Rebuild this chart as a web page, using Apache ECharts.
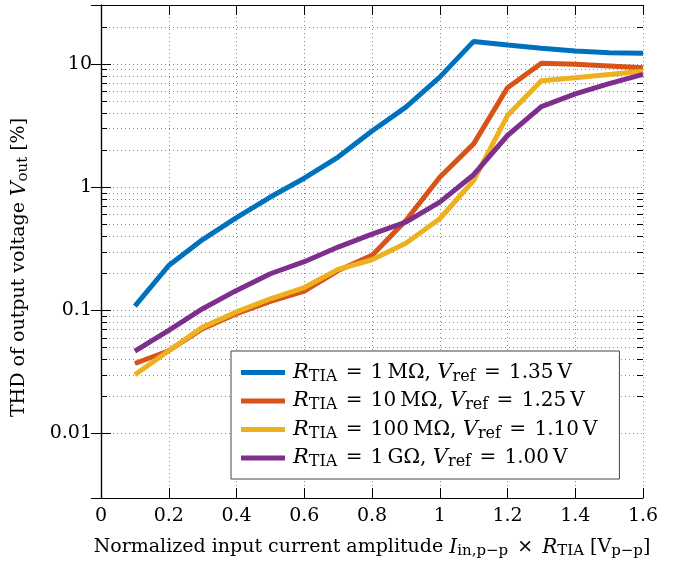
<!DOCTYPE html>
<html>
<head>
<meta charset="utf-8">
<script src="https://cdn.jsdelivr.net/npm/echarts@6/dist/echarts.min.js"></script>
<style>
  html, body { margin: 0; padding: 0; background: #fff; }
  #main { width: 678px; height: 563px; }
</style>
</head>
<body>
<div id="main"></div>
<script>
var FONT = "DejaVu Serif";

// x values (normalized amplitude)
var xValues = [0.1, 0.2, 0.3, 0.4, 0.5, 0.6, 0.7, 0.8, 0.9, 1.0, 1.1, 1.2, 1.3, 1.4, 1.5, 1.6];

// THD [%] per curve
var thd1M   = [0.108, 0.231, 0.375, 0.565, 0.83, 1.18, 1.75, 2.85, 4.45, 7.8, 15.2, 14.2, 13.4, 12.7, 12.3, 12.2];
var thd10M  = [0.037, 0.047, 0.071, 0.094, 0.118, 0.143, 0.21, 0.279, 0.535, 1.2, 2.24, 6.4, 10.1, 9.9, 9.6, 9.3];
var thd100M = [0.030, 0.047, 0.073, 0.097, 0.124, 0.153, 0.215, 0.257, 0.35, 0.553, 1.13, 3.8, 7.3, 7.7, 8.2, 8.7];
var thd1G   = [0.0467, 0.0687, 0.103, 0.145, 0.198, 0.248, 0.326, 0.415, 0.52, 0.755, 1.26, 2.62, 4.5, 5.7, 6.9, 8.2];

var resistors = ["1\u2009M\u03A9", "10\u2009M\u03A9", "100\u2009M\u03A9", "1\u2009G\u03A9"];
var vrefs = ["1.35", "1.25", "1.10", "1.00"];
var colors = ["#0072BD", "#D95319", "#EDB120", "#7E2F8E"];

// minor log ticks (2..9 of each decade inside the axis range)
var minorTicks = [0.02, 0.03, 0.04, 0.05, 0.06, 0.07, 0.08, 0.09,
                  0.2, 0.3, 0.4, 0.5, 0.6, 0.7, 0.8, 0.9,
                  2, 3, 4, 5, 6, 7, 8, 9, 20];

var names = resistors.map(function (r, i) {
    return "R_TIA = " + r + ", V_ref = " + vrefs[i] + " V";
});

function pairs(ys) {
    return xValues.map(function (x, i) { return [x, ys[i]]; });
}

var titleRich = {
    i: { fontFamily: FONT, fontStyle: "italic", fontSize: 20, color: "#000" },
    s: { fontFamily: FONT, fontSize: 15, color: "#000", padding: [8, 0, 0, 0] },
    o: { fontFamily: FONT, fontSize: 19, color: "#000", padding: [0, 3, 0, 3] }
};
var legendRich = {
    i: { fontFamily: FONT, fontStyle: "italic", fontSize: 21, color: "#000" },
    s: { fontFamily: FONT, fontSize: 16, color: "#000", padding: [8, 0, 0, 0] },
    o: { fontFamily: FONT, fontSize: 20, color: "#000", padding: [0, 2, 0, 2] }
};

var gridStyle = { color: "#8a8a8a", width: 1, type: [1, 3] };
var axisLineStyle = { color: "#000", width: 1.2 };

var chart = echarts.init(document.getElementById("main"));

var allSeries = [{
    type: "custom",
    silent: true,
    z: 1,
    data: minorTicks.map(function (v) { return [0, v]; }),
    encode: { x: 0, y: 1 },
    renderItem: function (params, api) {
        var p = api.coord([0, api.value(1)]);
        var cs = params.coordSys;
        var y = Math.round(p[1]) + 0.5;
        return {
            type: "group",
            children: [
                { type: "line", shape: { x1: cs.x, y1: y, x2: cs.x + cs.width, y2: y },
                  style: { stroke: gridStyle.color, lineWidth: 1, lineDash: [1, 3] } },
                { type: "line", shape: { x1: cs.x, y1: y, x2: cs.x + 6, y2: y },
                  style: { stroke: "#000", lineWidth: 1 } },
                { type: "line", shape: { x1: cs.x + cs.width - 6, y1: y, x2: cs.x + cs.width, y2: y },
                  style: { stroke: "#000", lineWidth: 1 } }
            ]
        };
    }
}];

[thd1M, thd10M, thd100M, thd1G].forEach(function (d, i) {
    allSeries.push({
        name: names[i],
        type: "line",
        showSymbol: false,
        z: 3,
        data: pairs(d),
        lineStyle: { width: 5, color: colors[i] },
        itemStyle: { color: colors[i] }
    });
});

var options = {
    animation: false,
    grid: { left: 101, right: 35, top: 5, bottom: 65, outerBoundsMode: "none", containLabel: false },
    legend: {
        orient: "vertical",
        left: 231,
        top: 351,
        data: names,
        icon: "rect",
        itemWidth: 44,
        itemHeight: 5,
        itemGap: 6,
        padding: [11, 22, 9, 10],
        backgroundColor: "#fff",
        borderColor: "#444",
        borderWidth: 1,
        borderRadius: 0,
        textStyle: { fontFamily: FONT, fontSize: 20, color: "#000", rich: legendRich, padding: [0, 0, 0, 3] },
        formatter: function (name) {
            var k = names.indexOf(name);
            return "{i|R}{s|TIA} {o|=} " + resistors[k] + ", {i|V}{s|ref} {o|=} " + vrefs[k] + "\u2009V";
        }
    },
    xAxis: [{
        type: "value",
        min: 0,
        max: 1.6,
        interval: 0.2,
        position: "bottom",
        name: "Normalized input current amplitude {i|I}{s|in,p\u2212p} {o|\u00D7} {i|R}{s|TIA} [V{s|p\u2212p}]",
        nameLocation: "middle",
        nameGap: 38,
        nameTextStyle: { fontFamily: FONT, fontSize: 19, color: "#000", rich: titleRich },
        axisLine: { lineStyle: axisLineStyle },
        axisTick: { inside: true, length: 10, lineStyle: { color: "#000" } },
        axisLabel: { fontFamily: FONT, fontSize: 19, color: "#000", margin: 9 },
        splitLine: { show: true, lineStyle: gridStyle }
    }, {
        type: "value",
        min: 0,
        max: 1.6,
        interval: 0.2,
        position: "top",
        axisLine: { lineStyle: axisLineStyle },
        axisTick: { inside: true, length: 10, lineStyle: { color: "#000" } },
        axisLabel: { show: false },
        splitLine: { show: false }
    }],
    yAxis: [{
        type: "log",
        min: 0.003,
        max: 30,
        position: "left",
        name: "THD of output voltage {i|V}{s|out} [%]",
        nameLocation: "middle",
        nameGap: 70,
        nameTextStyle: { fontFamily: FONT, fontSize: 19, color: "#000", rich: titleRich, padding: [0, 32, 0, 0] },
        axisLine: { show: true, lineStyle: axisLineStyle },
        axisTick: { inside: true, length: 10, lineStyle: { color: "#000" } },
        axisLabel: { fontFamily: FONT, fontSize: 19, color: "#000", margin: 9, showMinLabel: false, showMaxLabel: false },
        splitLine: { show: true, lineStyle: gridStyle }
    }, {
        type: "log",
        min: 0.003,
        max: 30,
        position: "right",
        axisLine: { show: true, lineStyle: axisLineStyle },
        axisTick: { inside: true, length: 10, lineStyle: { color: "#000" } },
        axisLabel: { show: false },
        splitLine: { show: false }
    }],
    series: allSeries
};

chart.setOption(options);

window.onresize = function () {
    chart.resize();
};
</script>
</body>
</html>
